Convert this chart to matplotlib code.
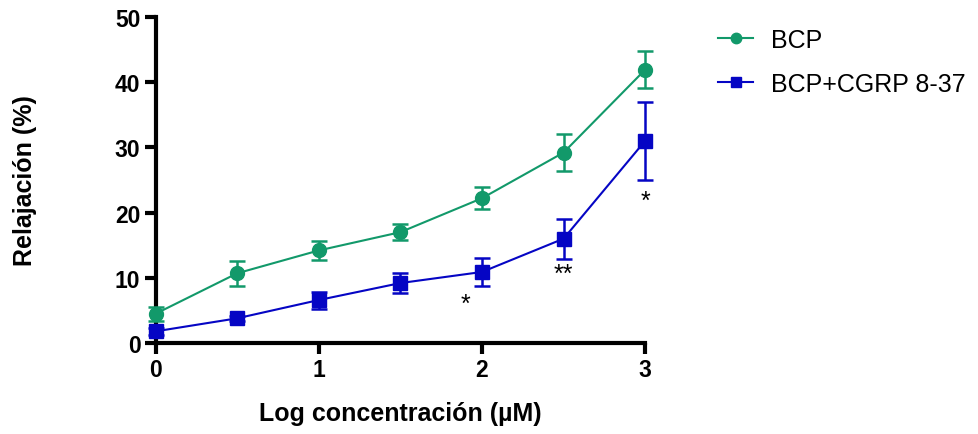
import numpy as np
import matplotlib.pyplot as plt

plt.rcParams['font.family'] = ['Liberation Sans', 'DejaVu Sans']

# Data
log_conc = [0, 0.5, 1, 1.5, 2, 2.5, 3]
bcp_mean = [4.5, 10.7, 14.2, 17.0, 22.2, 29.2, 41.9]
bcp_err = [1.1, 1.9, 1.5, 1.25, 1.7, 2.9, 2.8]
cgrp_mean = [1.8, 3.8, 6.6, 9.2, 10.9, 16.0, 31.0]
cgrp_err = [0.5, 0.4, 1.3, 1.6, 2.2, 3.05, 6.0]

# significance marks (x, y, text)
sig_x = [1.9, 2.5, 3.0]
sig_y = [6.0, 10.6, 21.8]
sig_txt = ['*', '**', '*']

green = '#12996a'
blue = '#0505c4'

fig = plt.figure(figsize=(9.79, 4.35), dpi=100)
ax = fig.add_axes([0.159, 0.209, 0.5, 0.75])

ax.errorbar(log_conc, bcp_mean, yerr=bcp_err, color=green, marker='o',
            markersize=10, linewidth=1.5, capsize=5.5, capthick=1.8,
            elinewidth=1.8, label='BCP', clip_on=False, zorder=3)
ax.errorbar(log_conc, cgrp_mean, yerr=cgrp_err, color=blue, marker='s',
            markersize=10, linewidth=1.5, capsize=5.5, capthick=1.8,
            elinewidth=1.8, label='BCP+CGRP 8-37', clip_on=False, zorder=4)

for x, y, t in zip(sig_x, sig_y, sig_txt):
    ax.text(x, y, t, ha='center', va='center', fontsize=18, color='black')

ax.set_xlim(0, 3)
ax.set_ylim(0, 50)
ax.set_xticks([0, 1, 2, 3])
ax.set_yticks([0, 10, 20, 30, 40, 50])

for side in ['top', 'right']:
    ax.spines[side].set_visible(False)
for side in ['left', 'bottom']:
    ax.spines[side].set_linewidth(3)
ax.tick_params(width=3, length=8, labelsize=16.5, pad=3)
for lbl in ax.get_xticklabels() + ax.get_yticklabels():
    lbl.set_fontweight('bold')

ax.set_xlabel('Log concentración (µM)', fontsize=18, fontweight='bold', labelpad=14)
ax.set_ylabel('Relajación (%)', fontsize=18, fontweight='bold', labelpad=56)

handles, labels = ax.get_legend_handles_labels()
handles = [h[0] for h in handles]
ax.legend(handles, labels, loc='upper left', bbox_to_anchor=(1.103, 1.035),
          frameon=False, fontsize=18, handlelength=1.4, labelspacing=0.8,
          handletextpad=0.7, markerscale=0.75)

fig.savefig('out.png', dpi=100)
